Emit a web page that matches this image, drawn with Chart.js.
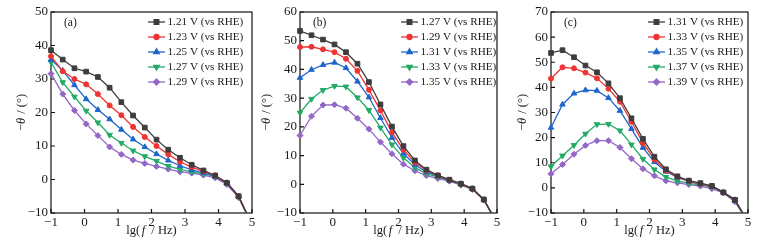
<!DOCTYPE html>
<html>
<head>
<meta charset="utf-8">
<script src="https://cdn.jsdelivr.net/npm/chart.js@4.4.1/dist/chart.umd.min.js"></script>
<style>
	body { margin: 0; background: #fff; }
	#wrap { position: relative; width: 774px; height: 250px; }
	canvas { position: absolute; top: 0; }
</style>
</head>
<body>
<div id="wrap">
	<canvas id="panel-a" width="258" height="250" style="left:0;width:258px;height:250px"></canvas>
	<canvas id="panel-b" width="252" height="250" style="left:258px;width:252px;height:250px"></canvas>
	<canvas id="panel-c" width="264" height="250" style="left:510px;width:264px;height:250px"></canvas>
</div>
<script>
// lg(f / Hz) of each measured point
const lgFreq = [ -1, -0.65, -0.3, 0.05, 0.4, 0.75, 1.1, 1.45, 1.8, 2.15, 2.5, 2.85, 3.2, 3.55, 3.9, 4.25, 4.6, 4.95 ];
const xTicks = [ -1, 0, 1, 2, 3, 4, 5 ];

// panel (a)
const labelsA = [ '1.21 V (vs RHE)', '1.23 V (vs RHE)', '1.25 V (vs RHE)', '1.27 V (vs RHE)', '1.29 V (vs RHE)' ];
const a121 = [ 38.6, 35.8, 33.2, 32.2, 30.6, 27.4, 23.1, 19.1, 15.5, 11.9, 8.9, 6.5, 4.4, 2.7, 1.2, -1.0, -5.0, -12.5 ];
const a123 = [ 36.8, 32.3, 30.0, 28.4, 25.5, 22.1, 19.2, 15.7, 12.7, 10.0, 7.5, 5.3, 3.7, 2.4, 1.2, -1.0, -5.0, -12.5 ];
const a125 = [ 35.8, 32.5, 28.2, 24.0, 20.8, 18.0, 14.9, 12.0, 9.7, 7.6, 5.7, 4.1, 2.9, 2.0, 0.9, -1.0, -5.0, -12.5 ];
const a127 = [ 35.0, 29.0, 24.7, 20.5, 17.0, 13.3, 10.9, 8.6, 6.9, 5.5, 4.0, 3.0, 2.3, 1.7, 0.9, -1.0, -5.0, -12.5 ];
const a129 = [ 31.6, 25.5, 20.6, 16.6, 13.1, 9.7, 7.5, 5.8, 4.8, 3.9, 3.1, 2.3, 1.9, 1.3, 0.5, -1.5, -5.4, -12.5 ];

// panel (b)
const labelsB = [ '1.27 V (vs RHE)', '1.29 V (vs RHE)', '1.31 V (vs RHE)', '1.33 V (vs RHE)', '1.35 V (vs RHE)' ];
const b127 = [ 53.4, 51.9, 50.4, 48.7, 46.0, 42.0, 35.6, 27.8, 20.1, 13.3, 8.3, 5.1, 3.1, 1.6, 0.2, -1.5, -5.3, -12.5 ];
const b129 = [ 47.8, 47.9, 47.0, 46.0, 43.7, 39.5, 32.9, 25.7, 18.1, 12.0, 7.6, 4.8, 3.0, 1.5, 0.2, -1.6, -5.4, -12.5 ];
const b131 = [ 37.1, 39.9, 41.6, 42.4, 40.5, 35.8, 30.3, 23.1, 16.2, 10.7, 6.8, 4.3, 2.8, 1.4, 0.1, -1.6, -5.4, -12.5 ];
const b133 = [ 24.9, 29.7, 32.8, 34.2, 34.0, 30.2, 25.8, 19.7, 13.8, 9.2, 5.8, 3.7, 2.5, 1.3, 0.0, -1.6, -5.4, -12.5 ];
const b135 = [ 17.0, 23.7, 27.6, 27.7, 26.5, 23.0, 19.2, 14.7, 10.6, 7.0, 4.7, 3.0, 2.0, 1.1, -0.3, -1.8, -5.5, -12.5 ];

// panel (c)
const labelsC = [ '1.31 V (vs RHE)', '1.33 V (vs RHE)', '1.35 V (vs RHE)', '1.37 V (vs RHE)', '1.39 V (vs RHE)' ];
const c131 = [ 53.7, 54.8, 52.0, 48.7, 46.0, 41.6, 35.7, 27.7, 19.5, 12.4, 7.4, 4.6, 2.9, 1.9, 0.8, -1.8, -4.8, -12.5 ];
const c133 = [ 43.5, 48.0, 47.6, 45.9, 43.6, 39.5, 34.3, 26.3, 17.9, 11.3, 6.9, 4.4, 2.7, 1.6, 0.7, -1.8, -4.8, -12.5 ];
const c135 = [ 24.0, 33.2, 37.6, 38.9, 38.7, 35.8, 30.7, 23.5, 16.0, 10.3, 6.5, 4.2, 2.6, 1.5, 0.6, -1.8, -4.8, -12.5 ];
const c137 = [ 8.5, 12.8, 17.0, 21.5, 25.3, 25.4, 22.8, 17.2, 11.5, 7.3, 4.3, 2.8, 1.8, 1.2, 0.3, -1.8, -4.5, -12.5 ];
const c139 = [ 5.6, 9.3, 13.4, 16.9, 18.8, 18.8, 16.1, 11.6, 7.6, 4.8, 2.8, 2.0, 1.3, 0.7, -0.3, -2.0, -5.5, -12.5 ];

(function () {
	'use strict';

	const serif = '"Liberation Serif", "Times New Roman", serif';
	const ink = '#1a1a1a';
	const colors = [ '#3d3d3d', '#ee3333', '#1f66cc', '#22aa66', '#9467c7' ];
	const markers = [
		{ style: 'rect', radius: 3.3, rotation: 0 },
		{ style: 'circle', radius: 2.5, rotation: 0 },
		{ style: 'triangle', radius: 3.2, rotation: 0 },
		{ style: 'triangle', radius: 3.2, rotation: 180 },
		{ style: 'rectRot', radius: 3.0, rotation: 0 }
	];

	const fmt = v => ( v < 0 ? '\u2212' + Math.abs( v ) : String( v ) );

	// draw a run of text pieces with different fonts, centred on x
	const drawPieces = ( ctx, pieces, x, y ) => {
		const widths = pieces.map( p => {
			ctx.font = p.font;
			return ctx.measureText( p.text ).width + ( p.gap || 0 );
		} );
		let cx = x - widths.reduce( ( s, w ) => s + w, 0 ) / 2;
		pieces.forEach( ( p, i ) => {
			ctx.font = p.font;
			ctx.fillText( p.text, cx, y );
			cx += widths[ i ];
		} );
	};

	const framePlugin = {
		id: 'frame',
		beforeDatasetsDraw( chart ) {
			const { ctx, chartArea: area, scales } = chart;
			ctx.save();
			ctx.strokeStyle = '#111';
			ctx.lineWidth = 1.2;
			ctx.beginPath();
			scales.x.ticks.forEach( t => {
				const px = scales.x.getPixelForValue( t.value );
				ctx.moveTo( px, area.bottom );
				ctx.lineTo( px, area.bottom - 4 );
			} );
			scales.y.ticks.forEach( t => {
				const py = scales.y.getPixelForValue( t.value );
				ctx.moveTo( area.left, py );
				ctx.lineTo( area.left + 4, py );
			} );
			ctx.stroke();
			ctx.strokeRect( area.left, area.top, area.right - area.left, area.bottom - area.top );
			ctx.restore();
		},
		afterDraw( chart, args, opts ) {
			const { ctx, chartArea: area } = chart;
			ctx.save();
			ctx.fillStyle = ink;
			ctx.textBaseline = 'middle';

			// panel letter
			ctx.font = '11.5px ' + serif;
			ctx.textAlign = 'left';
			ctx.fillText( opts.letter, area.left + 13, area.top + 11 );

			// legend inside the plot
			const lx = area.left + opts.legendX;
			chart.data.datasets.forEach( ( ds, i ) => {
				const y = area.top + 10 + i * 15;
				ctx.strokeStyle = ds.borderColor;
				ctx.lineWidth = ds.borderWidth;
				ctx.beginPath();
				ctx.moveTo( lx, y );
				ctx.lineTo( lx + 17, y );
				ctx.stroke();
				ctx.fillStyle = ds.borderColor;
				Chart.helpers.drawPoint( ctx, {
					pointStyle: ds.pointStyle,
					radius: ds.pointRadius,
					rotation: ds.pointRotation,
					borderWidth: 1
				}, lx + 8.5, y );
				ctx.fillStyle = ink;
				ctx.font = '11.2px ' + serif;
				ctx.fillText( ds.label, lx + 19.5, y );
			} );

			// axis titles with italic symbols
			ctx.textAlign = 'left';
			const normal = '12.5px ' + serif;
			const italic = 'italic 12.5px ' + serif;
			drawPieces( ctx, [
				{ text: 'lg(', font: normal, gap: 1.5 },
				{ text: 'f', font: italic, gap: 3 },
				{ text: ' / Hz)', font: normal }
			], ( area.left + area.right ) / 2, 231 );

			ctx.translate( opts.titleX, ( area.top + area.bottom ) / 2 );
			ctx.rotate( -Math.PI / 2 );
			drawPieces( ctx, [
				{ text: '\u2212', font: normal },
				{ text: '\u03b8', font: italic, gap: 1 },
				{ text: ' / (\u00b0)', font: normal }
			], 0, 0 );
			ctx.restore();
		}
	};

	const makePanel = ( id, letter, labels, series, yMax, yWidth, padRight, titleX, legendX ) => {
		new Chart( document.getElementById( id ), {
			type: 'line',
			plugins: [ framePlugin ],
			data: {
				datasets: series.map( ( arr, i ) => ( {
					label: labels[ i ],
					data: lgFreq.map( ( x, j ) => ( { x: x, y: arr[ j ] } ) ),
					borderColor: colors[ i ],
					backgroundColor: colors[ i ],
					pointBackgroundColor: colors[ i ],
					pointBorderColor: colors[ i ],
					borderWidth: 1.3,
					pointBorderWidth: 1,
					pointStyle: markers[ i ].style,
					pointRadius: markers[ i ].radius,
					pointRotation: markers[ i ].rotation,
					tension: 0,
					clip: { left: 6, right: 6, top: 6, bottom: 0 }
				} ) )
			},
			options: {
				responsive: false,
				animation: false,
				devicePixelRatio: 1,
				layout: { padding: { left: 0, right: padRight, top: 12, bottom: 0 } },
				plugins: {
					legend: { display: false },
					tooltip: { enabled: false },
					frame: { letter: letter, titleX: titleX, legendX: legendX }
				},
				scales: {
					x: {
						type: 'linear',
						min: -1,
						max: 5,
						afterBuildTicks: s => { s.ticks = xTicks.map( v => ( { value: v } ) ); },
						ticks: { color: ink, font: { family: serif, size: 13 }, padding: 2, maxRotation: 0, autoSkip: false, callback: fmt },
						grid: { display: false, drawTicks: false },
						border: { display: false },
						afterFit: s => { s.height = 37; }
					},
					y: {
						min: -10,
						max: yMax,
						ticks: { stepSize: 10, color: ink, font: { family: serif, size: 13 }, padding: 3, callback: fmt },
						grid: { display: false, drawTicks: false },
						border: { display: false },
						afterFit: s => { s.width = yWidth; }
					}
				}
			}
		} );
	};

	makePanel( 'panel-a', '(a)', labelsA, [ a121, a123, a125, a127, a129 ], 50, 51, 6, 22, 97 );
	makePanel( 'panel-b', '(b)', labelsB, [ b127, b129, b131, b133, b135 ], 60, 42, 13, 9, 101 );
	makePanel( 'panel-c', '(c)', labelsC, [ c131, c133, c135, c137, c139 ], 70, 41, 26, 13, 97 );
})();
</script>
</body>
</html>
